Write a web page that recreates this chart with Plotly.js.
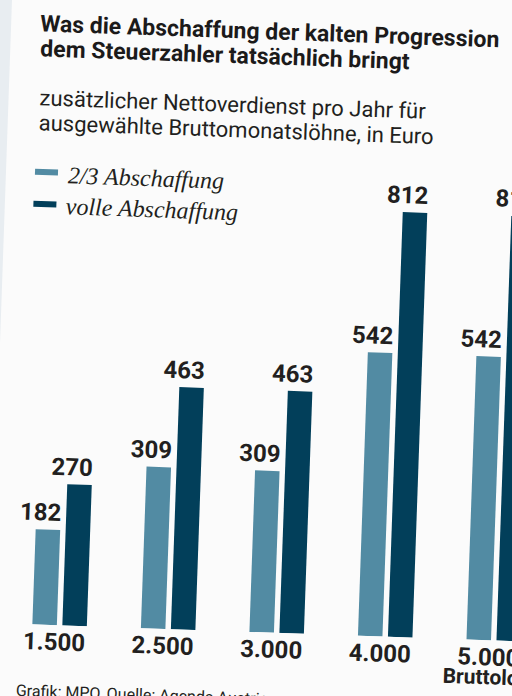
<!DOCTYPE html>
<html>
<head>
<meta charset="utf-8">
<script src="https://cdn.plot.ly/plotly-3.0.1.min.js"></script>
<style>
  html, body { margin: 0; padding: 0; width: 512px; height: 696px; overflow: hidden; background: #e8edf1; }
  #chart { position: absolute; left: 0px; top: -42px; width: 600px; height: 780px;
           transform-origin: 256px 390px; transform: rotate(2deg); }
</style>
</head>
<body>
<div id="chart"></div>
<script>
// ---- data ----
const categories = ['1.500', '2.500', '3.000', '4.000', '5.000'];
const seriesNames = ['2/3 Abschaffung', 'volle Abschaffung'];
const partialValues = [182, 309, 309, 542, 542];
const fullValues = [270, 463, 463, 812, 812];
const titleLines = ['Was die Abschaffung der kalten Progression', 'dem Steuerzahler tatsächlich bringt'];
const subtitleLines = ['zusätzlicher Nettoverdienst pro Jahr für', 'ausgewählte Bruttomonatslöhne, in Euro'];
const axisLabel = 'Bruttolohn';
const footer = 'Grafik: MPO, Quelle: Agenda Austria';

// ---- styles ----
const W = 600, H = 780, MT = 203, MB = 106;
const colLight = '#528ba3', colDark = '#023f5a', ink = '#221f20';
const px = x => x / W;
const py = y => (H - MB - y) / (H - MT - MB);
// labels in the print sit flush with the right edge of their bar
const padRight = s => s + '\u2007\u200A';

const barText = { family: 'Roboto', size: 24, color: ink, weight: 700 };

const traces = [
  { type: 'bar', name: seriesNames[0], x: categories, y: partialValues,
    marker: { color: colLight, line: { width: 0 } },
    text: partialValues.map(v => padRight(String(v))), textposition: 'outside', constraintext: 'none',
    textfont: barText, cliponaxis: false, hoverinfo: 'none' },
  { type: 'bar', name: seriesNames[1], x: categories, y: fullValues,
    marker: { color: colDark, line: { width: 0 } },
    text: fullValues.map(v => padRight(String(v))), textposition: 'outside', constraintext: 'none',
    textfont: barText, cliponaxis: false, hoverinfo: 'none' }
];

const ann = (text, x, y, font, extra) => Object.assign({
  text, xref: 'paper', yref: 'paper', x: px(x), y: py(y),
  xanchor: 'left', yanchor: 'top', showarrow: false, align: 'left', font }, extra || {});

const titleFont = { family: 'Roboto', size: 23, color: '#1b1a1a', weight: 700 };
const subFont = { family: 'Roboto', size: 22, color: ink };
const legFont = { family: 'Liberation Serif', size: 24, color: ink, style: 'italic' };

const annotations = [
  ann(titleLines[0], 27, 58, titleFont),
  ann(titleLines[1], 28, 83, titleFont),
  ann(subtitleLines[0], 29, 133, subFont),
  ann(subtitleLines[1], 29, 158, subFont),
  ann(seriesNames[0], 60, 209, legFont),
  ann(seriesNames[1], 59, 240, legFont),
  ann(footer, 26, 729, { family: 'Roboto', size: 16, color: ink }),
  { text: axisLabel, xref: 'x', yref: 'paper', x: 4, y: py(697), xanchor: 'center', yanchor: 'top',
    showarrow: false, font: { family: 'Roboto', size: 21, color: ink, weight: 700 } }
];

const shapes = [
  { type: 'rect', xref: 'paper', yref: 'paper', x0: px(29), x1: px(52), y0: py(218.5), y1: py(224.5),
    fillcolor: colLight, line: { width: 0 } },
  { type: 'rect', xref: 'paper', yref: 'paper', x0: px(28.5), x1: px(51.5), y0: py(250.5), y1: py(256.5),
    fillcolor: colDark, line: { width: 0 } }
];

const layout = {
  width: W, height: H,
  margin: { l: 0, r: 0, t: MT, b: MB, pad: 0 },
  paper_bgcolor: '#fbfbfb', plot_bgcolor: '#fbfbfb',
  barmode: 'group', bargap: 0.4475, bargroupgap: 0.183,
  showlegend: false,
  xaxis: { type: 'category', range: [-0.639, 4.886], showgrid: false, zeroline: false, showline: false,
           tickvals: categories, ticktext: categories.map(c => c + '\u2009\u2009'),
           ticks: '', tickfont: { family: 'Roboto', size: 24, color: ink, weight: 700 }, fixedrange: true },
  yaxis: { range: [0, 900], visible: false, fixedrange: true },
  annotations, shapes,
  font: { family: 'Roboto', color: ink }
};

Plotly.newPlot('chart', traces, layout, { displayModeBar: false, staticPlot: true });
</script>
</body>
</html>
